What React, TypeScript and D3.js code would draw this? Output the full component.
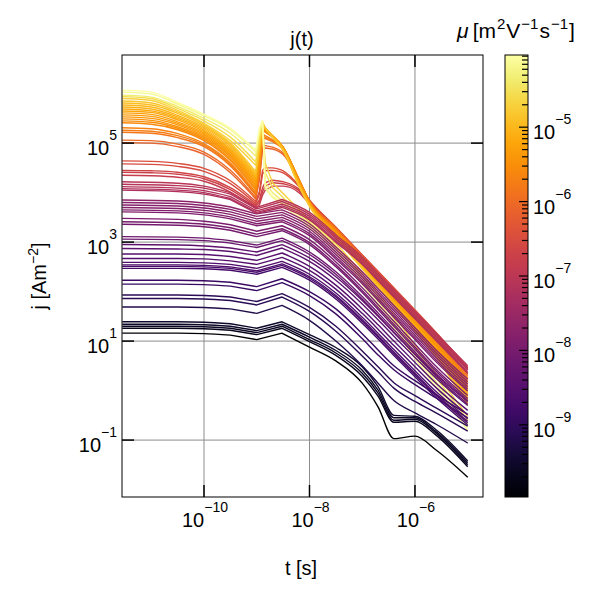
import * as d3 from 'd3';

// plot frame in page pixels
const PLOT = { left: 122, right: 483, top: 55, bottom: 497 };
const CBAR = { left: 505, right: 528, top: 55, bottom: 497 };

// log10 of the time points the curves are read at
const T_FLAT = [-11.55, -10.5, -10, -9.5, -9.0, -8.52, -8, -7.5, -7, -6.7, -6.4, -6.0, -5.6, -5];
const T_SPIKE = [-11.55, -11, -10.5, -10, -9.5, -9.02, -8.95, -8.89, -8.84, -8.7, -8.5, -8.2, -8, -7.5, -7, -6.5, -6, -5.5, -5];
// [smooth end, kinked end] indices: smooth start, straight through the dip/spike, smooth tail
const FLAT_SEGMENTS = [3, 5];
const SPIKE_SEGMENTS = [5, 9];

// low mobility runs: plateau, small dip/bump, then decay (log10 j)
const FLAT_MU = [
  1.1e-10, 2.2e-10, 2.5e-10, 2.8e-10, 3.1e-10,
  6e-10, 7.5e-10, 8.5e-10, 1.15e-9, 1.3e-9,
  1.9e-9, 2.1e-9, 2.3e-9, 2.6e-9, 3e-9, 3.4e-9, 4e-9, 4.5e-9,
  6e-9, 7e-9, 9e-9, 1e-8, 1.1e-8,
  1.25e-8, 1.35e-8, 1.5e-8, 1.6e-8, 1.8e-8, 2e-8,
  6e-8, 6.8e-8, 7.5e-8, 8.2e-8, 9e-8,
];
const FLAT_J = [
  [1.16, 1.16, 1.15, 1.12, 1.03, 1.16, 0.88, 0.6, 0.15, -0.33, -0.97, -0.92, -1.2, -1.75],
  [1.26, 1.26, 1.25, 1.22, 1.13, 1.26, 0.99, 0.71, 0.29, -0.11, -0.64, -0.62, -0.9, -1.54],
  [1.3, 1.3, 1.29, 1.26, 1.17, 1.3, 1.03, 0.76, 0.35, -0.05, -0.6, -0.58, -0.86, -1.5],
  [1.34, 1.34, 1.33, 1.3, 1.21, 1.34, 1.08, 0.81, 0.41, 0.01, -0.55, -0.55, -0.83, -1.46],
  [1.39, 1.39, 1.38, 1.35, 1.26, 1.39, 1.13, 0.87, 0.48, 0.08, -0.5, -0.52, -0.79, -1.42],
  [1.69, 1.69, 1.68, 1.65, 1.56, 1.72, 1.42, 1.0, 0.5, 0.15, -0.2, -0.45, -0.68, -1.06],
  [1.86, 1.86, 1.85, 1.82, 1.73, 1.89, 1.6, 1.2, 0.7, 0.38, 0.05, -0.22, -0.45, -0.82],
  [1.93, 1.93, 1.92, 1.89, 1.8, 1.96, 1.68, 1.3, 0.8, 0.48, 0.16, -0.1, -0.35, -0.72],
  [2.15, 2.15, 2.14, 2.11, 2.02, 2.18, 1.92, 1.55, 1.05, 0.72, 0.42, 0.12, -0.15, -0.55],
  [2.23, 2.23, 2.22, 2.19, 2.1, 2.26, 2.0, 1.65, 1.15, 0.82, 0.5, 0.2, -0.08, -0.48],
  [2.47, 2.47, 2.46, 2.43, 2.35, 2.49, 2.23, 1.85, 1.36, 1.04, 0.71, 0.28, -0.14, -0.69],
  [2.51, 2.51, 2.5, 2.47, 2.39, 2.53, 2.27, 1.89, 1.4, 1.08, 0.75, 0.32, -0.1, -0.65],
  [2.54, 2.54, 2.53, 2.5, 2.42, 2.56, 2.3, 1.92, 1.43, 1.11, 0.78, 0.35, -0.07, -0.62],
  [2.59, 2.59, 2.58, 2.55, 2.47, 2.61, 2.35, 1.97, 1.48, 1.16, 0.83, 0.4, -0.02, -0.57],
  [2.67, 2.67, 2.66, 2.62, 2.55, 2.69, 2.43, 2.05, 1.56, 1.24, 0.91, 0.48, 0.06, -0.49],
  [2.76, 2.76, 2.75, 2.71, 2.63, 2.78, 2.51, 2.13, 1.65, 1.33, 1.0, 0.57, 0.15, -0.4],
  [2.87, 2.86, 2.85, 2.81, 2.73, 2.88, 2.61, 2.23, 1.75, 1.43, 1.1, 0.67, 0.25, -0.3],
  [2.95, 2.94, 2.92, 2.88, 2.8, 2.95, 2.68, 2.3, 1.82, 1.5, 1.17, 0.74, 0.32, -0.22],
  [3.06, 3.05, 3.03, 2.98, 2.89, 3.03, 2.75, 2.35, 1.85, 1.52, 1.18, 0.73, 0.29, -0.27],
  [3.11, 3.1, 3.08, 3.03, 2.94, 3.08, 2.8, 2.4, 1.9, 1.57, 1.23, 0.78, 0.34, -0.22],
  [3.36, 3.34, 3.31, 3.24, 3.11, 3.23, 2.95, 2.5, 1.98, 1.64, 1.3, 0.84, 0.39, -0.2],
  [3.41, 3.39, 3.36, 3.29, 3.16, 3.27, 2.99, 2.54, 2.02, 1.68, 1.34, 0.88, 0.43, -0.16],
  [3.48, 3.46, 3.42, 3.35, 3.22, 3.33, 3.05, 2.6, 2.08, 1.74, 1.4, 0.94, 0.49, -0.1],
  [3.61, 3.59, 3.55, 3.47, 3.33, 3.41, 3.13, 2.66, 2.16, 1.82, 1.48, 1.03, 0.58, -0.01],
  [3.65, 3.63, 3.59, 3.51, 3.37, 3.45, 3.17, 2.7, 2.2, 1.86, 1.52, 1.07, 0.62, 0.03],
  [3.7, 3.68, 3.64, 3.56, 3.42, 3.5, 3.22, 2.75, 2.25, 1.91, 1.57, 1.12, 0.67, 0.08],
  [3.75, 3.73, 3.69, 3.61, 3.47, 3.55, 3.27, 2.8, 2.3, 1.96, 1.62, 1.17, 0.72, 0.13],
  [3.8, 3.78, 3.74, 3.66, 3.52, 3.6, 3.32, 2.85, 2.35, 2.01, 1.67, 1.22, 0.77, 0.18],
  [3.85, 3.83, 3.79, 3.71, 3.57, 3.65, 3.37, 2.9, 2.4, 2.06, 1.72, 1.27, 0.82, 0.23],
  [4.05, 4.02, 3.97, 3.86, 3.58, 3.7, 3.45, 3.0, 2.55, 2.22, 1.89, 1.45, 1.01, 0.35],
  [4.08, 4.05, 4.0, 3.88, 3.6, 3.73, 3.48, 3.03, 2.58, 2.25, 1.92, 1.48, 1.04, 0.38],
  [4.12, 4.09, 4.04, 3.92, 3.63, 3.77, 3.52, 3.07, 2.62, 2.29, 1.96, 1.52, 1.08, 0.42],
  [4.17, 4.14, 4.09, 3.97, 3.67, 3.82, 3.56, 3.11, 2.66, 2.33, 2.0, 1.56, 1.12, 0.46],
  [4.22, 4.19, 4.13, 4.0, 3.7, 3.86, 3.6, 3.15, 2.7, 2.37, 2.04, 1.6, 1.16, 0.5],
];

// high mobility runs: early decay, spike near 1 ns, power-law tail (log10 j)
const SPIKE_MU = [
  1.5e-7, 1.8e-7, 2.2e-7, 3e-7, 3.6e-7,
  8e-7, 1e-6, 1.5e-6, 1.8e-6, 2.2e-6,
  2.7e-6, 3.1e-6, 3.5e-6, 4e-6, 4.5e-6, 5.2e-6, 6e-6, 7e-6, 8.2e-6, 9.5e-6, 1.2e-5, 1.5e-5,
  2e-5, 2.8e-5, 4.5e-5, 6.5e-5, 9e-5,
];
const SPIKE_J = [
  [4.35, 4.34, 4.31, 4.23, 4.01, 3.68, 3.75, 3.95, 4.05, 4.13, 4.13, 4.0, 3.77, 3.25, 2.7, 2.15, 1.59, 1.02, 0.42],
  [4.41, 4.4, 4.37, 4.28, 4.06, 3.72, 3.8, 4.02, 4.13, 4.2, 4.18, 4.04, 3.8, 3.27, 2.72, 2.16, 1.6, 1.03, 0.43],
  [4.45, 4.44, 4.41, 4.32, 4.1, 3.75, 3.85, 4.1, 4.2, 4.25, 4.22, 4.07, 3.82, 3.28, 2.73, 2.17, 1.61, 1.04, 0.44],
  [4.58, 4.57, 4.53, 4.43, 4.18, 3.78, 3.96, 4.38, 4.44, 4.45, 4.4, 4.12, 3.84, 3.3, 2.74, 2.18, 1.62, 1.05, 0.45],
  [4.64, 4.63, 4.59, 4.49, 4.24, 3.82, 4.02, 4.45, 4.5, 4.5, 4.44, 4.14, 3.85, 3.3, 2.74, 2.19, 1.63, 1.06, 0.47],
  [5.01, 5.0, 4.93, 4.77, 4.4, 3.87, 4.25, 4.88, 4.9, 4.88, 4.77, 4.25, 3.84, 3.29, 2.72, 2.16, 1.57, 0.99, 0.33],
  [5.06, 5.05, 4.98, 4.82, 4.45, 3.9, 4.3, 4.95, 4.95, 4.92, 4.8, 4.25, 3.83, 3.28, 2.7, 2.14, 1.55, 0.96, 0.3],
  [5.22, 5.2, 5.11, 4.93, 4.54, 3.95, 4.4, 5.1, 5.09, 5.03, 4.87, 4.27, 3.82, 3.26, 2.68, 2.11, 1.52, 0.92, 0.26],
  [5.26, 5.24, 5.15, 4.96, 4.57, 3.97, 4.44, 5.14, 5.12, 5.05, 4.88, 4.27, 3.82, 3.25, 2.67, 2.1, 1.5, 0.9, 0.23],
  [5.31, 5.29, 5.19, 4.99, 4.6, 4.0, 4.48, 5.18, 5.15, 5.07, 4.9, 4.27, 3.82, 3.24, 2.66, 2.08, 1.48, 0.88, 0.2],
  [5.41, 5.38, 5.27, 5.05, 4.65, 4.05, 4.55, 5.25, 5.22, 5.12, 4.92, 4.26, 3.81, 3.23, 2.65, 2.06, 1.46, 0.85, 0.16],
  [5.45, 5.42, 5.3, 5.08, 4.68, 4.08, 4.6, 5.28, 5.24, 5.13, 4.92, 4.25, 3.81, 3.22, 2.63, 2.04, 1.44, 0.82, 0.12],
  [5.49, 5.46, 5.33, 5.11, 4.72, 4.12, 4.64, 5.3, 5.26, 5.14, 4.92, 4.24, 3.8, 3.21, 2.62, 2.02, 1.42, 0.79, 0.08],
  [5.53, 5.5, 5.37, 5.14, 4.75, 4.15, 4.68, 5.32, 5.27, 5.14, 4.92, 4.23, 3.8, 3.2, 2.6, 2.0, 1.39, 0.76, 0.04],
  [5.57, 5.54, 5.4, 5.17, 4.78, 4.19, 4.72, 5.34, 5.28, 5.15, 4.91, 4.22, 3.79, 3.18, 2.58, 1.98, 1.37, 0.73, 0.0],
  [5.61, 5.58, 5.43, 5.2, 4.81, 4.22, 4.76, 5.36, 5.29, 5.15, 4.91, 4.21, 3.78, 3.17, 2.57, 1.96, 1.35, 0.7, -0.04],
  [5.65, 5.62, 5.47, 5.23, 4.84, 4.26, 4.8, 5.37, 5.3, 5.15, 4.9, 4.2, 3.77, 3.16, 2.55, 1.94, 1.32, 0.67, -0.08],
  [5.69, 5.65, 5.5, 5.26, 4.87, 4.29, 4.84, 5.38, 5.3, 5.14, 4.89, 4.18, 3.76, 3.14, 2.53, 1.92, 1.3, 0.64, -0.12],
  [5.73, 5.69, 5.53, 5.29, 4.9, 4.32, 4.87, 5.39, 5.31, 5.14, 4.88, 4.17, 3.75, 3.13, 2.52, 1.9, 1.27, 0.61, -0.16],
  [5.77, 5.73, 5.56, 5.32, 4.94, 4.35, 4.9, 5.4, 5.31, 5.13, 4.87, 4.16, 3.74, 3.11, 2.5, 1.88, 1.25, 0.58, -0.2],
  [5.81, 5.77, 5.6, 5.35, 4.97, 4.38, 4.92, 5.41, 5.3, 5.12, 4.86, 4.14, 3.73, 3.1, 2.48, 1.86, 1.22, 0.55, -0.25],
  [5.85, 5.81, 5.63, 5.38, 5.0, 4.42, 4.95, 5.42, 5.3, 5.12, 4.85, 4.13, 3.72, 3.08, 2.46, 1.84, 1.2, 0.52, -0.3],
  [5.9, 5.86, 5.66, 5.4, 5.05, 4.55, 5.05, 5.38, 4.6, 4.2, 3.98, 3.66, 3.45, 2.97, 2.36, 1.68, 0.92, 0.2, -0.52],
  [5.94, 5.9, 5.7, 5.45, 5.12, 4.62, 5.1, 5.4, 4.4, 4.1, 3.9, 3.6, 3.4, 2.92, 2.3, 1.6, 0.85, 0.12, -0.6],
  [5.97, 5.93, 5.74, 5.5, 5.2, 4.74, 5.2, 5.42, 4.2, 4.0, 3.82, 3.55, 3.36, 2.88, 2.25, 1.52, 0.76, 0.03, -0.68],
  [6.03, 5.99, 5.79, 5.55, 5.27, 4.82, 5.25, 5.44, 4.08, 3.9, 3.74, 3.48, 3.29, 2.8, 2.15, 1.42, 0.65, -0.08, -0.8],
  [6.07, 6.03, 5.82, 5.58, 5.3, 4.86, 5.3, 5.46, 4.12, 3.93, 3.78, 3.52, 3.33, 2.85, 2.2, 1.48, 0.7, -0.02, -0.74],
];

const X_TICKS = [1e-10, 1e-8, 1e-6];
const X_TICK_EXP = ['\u221210', '\u22128', '\u22126'];
const Y_TICKS = [1e-1, 1e1, 1e3, 1e5];
const Y_TICK_EXP = ['\u22121', '1', '3', '5'];
const CBAR_TICKS = [1e-9, 1e-8, 1e-7, 1e-6, 1e-5];
const CBAR_TICK_EXP = ['\u22129', '\u22128', '\u22127', '\u22126', '\u22125'];

const FONT = '"Liberation Sans", Arial, sans-serif';
const TICK_LEN = 12;

const Pow = ({ x, y, exp, anchor }: { x: number; y: number; exp: string; anchor: string }) => (
  <text x={x} y={y} fontSize={20} textAnchor={anchor}>
    10
    <tspan dy={-15} fontSize={14}>{exp}</tspan>
  </text>
);

export default function App() {
  const xScale = d3.scaleLog().domain([10 ** -11.555, 10 ** -4.71]).range([PLOT.left, PLOT.right]);
  const yScale = d3.scaleLog().domain([10 ** -2.15, 10 ** 6.78]).range([PLOT.bottom, PLOT.top]);
  const muScale = d3.scaleLog().domain([10 ** -9.97, 10 ** -4.03]).range([CBAR.bottom, CBAR.top]);
  const muNorm = d3.scaleLog().domain([10 ** -9.97, 10 ** -4.03]).range([0, 1]).clamp(true);
  const color = (mu: number) => d3.interpolateInferno(muNorm(mu));

  const smooth = d3
    .line<[number, number]>()
    .x((d) => xScale(10 ** d[0]))
    .y((d) => yScale(10 ** d[1]))
    .curve(d3.curveMonotoneX);
  const straight = d3
    .line<[number, number]>()
    .x((d) => xScale(10 ** d[0]))
    .y((d) => yScale(10 ** d[1]));

  // one path per curve: smooth head, straight kinks, smooth tail
  const buildPath = (ts: number[], js: number[], seg: number[]) => {
    const pts = js.map((v, k) => [ts[k], v] as [number, number]);
    const a = smooth(pts.slice(0, seg[0] + 1)) || '';
    const b = (straight(pts.slice(seg[0], seg[1] + 1)) || '').replace(/^M/, 'L');
    const c = (smooth(pts.slice(seg[1])) || '').replace(/^M[^CLZ]*/, '');
    return a + b + c;
  };

  const spikeCurves = SPIKE_J.map((js, i) => ({ mu: SPIKE_MU[i], d: buildPath(T_SPIKE, js, SPIKE_SEGMENTS) }));
  const flatCurves = FLAT_J.map((js, i) => ({ mu: FLAT_MU[i], d: buildPath(T_FLAT, js, FLAT_SEGMENTS) }));

  // colorbar minor ticks 2..9 x 10^n inside the bar range
  const [muLo, muHi] = muScale.domain();
  const minor: number[] = [];
  for (let e = -10; e <= -4; e++) {
    for (let k = 2; k <= 9; k++) {
      const v = k * 10 ** e;
      if (v > muLo && v < muHi) minor.push(v);
    }
  }
  const stops = d3.range(0, 1.0001, 0.05);

  return (
    <svg
      width={600}
      height={600}
      style={{ position: 'absolute', left: 0, top: 0, background: '#fff' }}
      fontFamily={FONT}
    >
      <defs>
        <clipPath id="plot-clip">
          <rect x={PLOT.left} y={PLOT.top} width={PLOT.right - PLOT.left} height={PLOT.bottom - PLOT.top} />
        </clipPath>
        <linearGradient id="cbar-grad" x1="0" y1="1" x2="0" y2="0">
          {stops.map((s) => (
            <stop key={s} offset={s} stopColor={d3.interpolateInferno(s)} />
          ))}
        </linearGradient>
      </defs>

      {/* grid */}
      <g stroke="#8c8c8c" strokeWidth={1}>
        {X_TICKS.map((t) => (
          <line key={t} x1={xScale(t)} x2={xScale(t)} y1={PLOT.top} y2={PLOT.bottom} />
        ))}
        {Y_TICKS.map((t) => (
          <line key={t} x1={PLOT.left} x2={PLOT.right} y1={yScale(t)} y2={yScale(t)} />
        ))}
      </g>

      {/* curves */}
      <g clipPath="url(#plot-clip)" fill="none" strokeWidth={1.4} strokeLinejoin="round">
        {spikeCurves.map((c, i) => (
          <path key={'s' + i} d={c.d} stroke={color(c.mu)} />
        ))}
        {flatCurves.map((c, i) => (
          <path key={'f' + i} d={c.d} stroke={color(c.mu)} />
        ))}
      </g>

      {/* frame and inward ticks */}
      <rect
        x={PLOT.left}
        y={PLOT.top}
        width={PLOT.right - PLOT.left}
        height={PLOT.bottom - PLOT.top}
        fill="none"
        stroke="#000"
        strokeWidth={1}
      />
      <g stroke="#000" strokeWidth={1.5}>
        {X_TICKS.map((t) => (
          <g key={t}>
            <line x1={xScale(t)} x2={xScale(t)} y1={PLOT.bottom} y2={PLOT.bottom - TICK_LEN} />
            <line x1={xScale(t)} x2={xScale(t)} y1={PLOT.top} y2={PLOT.top + TICK_LEN} />
          </g>
        ))}
        {Y_TICKS.map((t) => (
          <g key={t}>
            <line x1={PLOT.left} x2={PLOT.left + TICK_LEN} y1={yScale(t)} y2={yScale(t)} />
            <line x1={PLOT.right} x2={PLOT.right - TICK_LEN} y1={yScale(t)} y2={yScale(t)} />
          </g>
        ))}
      </g>

      {X_TICKS.map((t, i) => (
        <Pow key={t} x={xScale(t) + 1} y={527} exp={X_TICK_EXP[i]} anchor="middle" />
      ))}
      {Y_TICKS.map((t, i) => (
        <Pow key={t} x={117} y={yScale(t) + 12} exp={Y_TICK_EXP[i]} anchor="end" />
      ))}

      <text x={302} y={46} fontSize={20} textAnchor="middle">j(t)</text>
      <text x={301} y={575} fontSize={20} textAnchor="middle">t [s]</text>
      <text transform="translate(46,276) rotate(-90)" fontSize={20} textAnchor="middle">
        j [Am<tspan dy={-8} fontSize={14}>{'\u22122'}</tspan>
        <tspan dy={8}>]</tspan>
      </text>

      {/* colorbar */}
      <rect
        x={CBAR.left}
        y={CBAR.top}
        width={CBAR.right - CBAR.left}
        height={CBAR.bottom - CBAR.top}
        fill="url(#cbar-grad)"
        stroke="#000"
        strokeWidth={1}
      />
      <g stroke="#000" strokeWidth={1.2}>
        {minor.map((v) => (
          <line key={v} x1={CBAR.right} x2={CBAR.right - 6} y1={muScale(v)} y2={muScale(v)} />
        ))}
        {CBAR_TICKS.map((v) => (
          <line key={v} x1={CBAR.right} x2={CBAR.right - 9} y1={muScale(v)} y2={muScale(v)} />
        ))}
      </g>
      {CBAR_TICKS.map((v, i) => (
        <Pow key={v} x={533} y={muScale(v) + 12} exp={CBAR_TICK_EXP[i]} anchor="start" />
      ))}
      <text x={516} y={38} fontSize={21} textAnchor="middle">
        <tspan fontStyle="italic">{'\u03bc'}</tspan>
        <tspan dx={4}>[m</tspan>
        <tspan dx={1} dy={-9} fontSize={15}>2</tspan>
        <tspan dx={1} dy={9}>V</tspan>
        <tspan dx={1} dy={-9} fontSize={15}>{'\u22121'}</tspan>
        <tspan dx={1} dy={9}>s</tspan>
        <tspan dx={1} dy={-9} fontSize={15}>{'\u22121'}</tspan>
        <tspan dx={1} dy={9}>]</tspan>
      </text>
    </svg>
  );
}
